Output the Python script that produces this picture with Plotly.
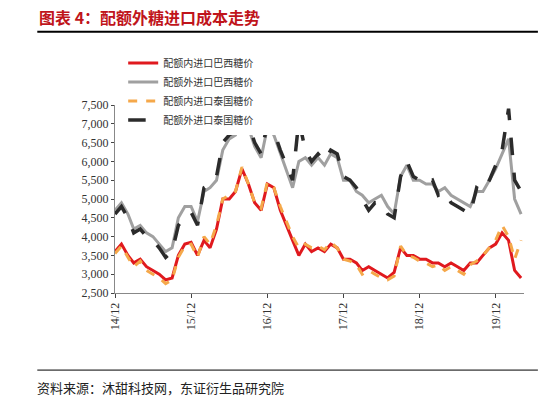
import plotly.graph_objects as go
import pandas as pd

months = pd.date_range("2014-12-01", "2020-04-01", freq="MS")

# 配额外进口泰国糖价 (black)
thai_out = [4600,
            4800, 4500, 4100, 4200, 4000, 3900, 3700, 3450, 3600, 4300, 4500, 4650,
            4300, 5300, 5400, 5600, 6500, 6700, 6800, 7400, 7000, 6500, 6200, 7000,
            6800, 6300, 5900, 5500, 7100, 6300, 6000, 6200, 6000, 6300, 6200, 5600,
            5500, 5300, 5000, 4700, 4900, 4900, 4600, 4500, 5600, 6000, 5600, 5500,
            5400, 5500, 5100, 5200, 4900, 4800, 4700, 4600, 5300, 5200, 5500, 5900,
            6300, 7400, 5500, 5200]
# 配额外进口巴西糖价 (gray)
brazil_out = [4700,
              4900, 4600, 4200, 4300, 4100, 4000, 3800, 3600, 3700, 4500, 4800, 4800,
              4400, 5200, 5300, 5500, 6300, 6600, 6700, 7300, 6900, 6400, 6100, 6900,
              6700, 6200, 5800, 5300, 6000, 6100, 5900, 6100, 5900, 6200, 6100, 5500,
              5500, 5200, 5100, 4900, 5000, 5100, 4800, 4600, 5600, 5900, 5500, 5500,
              5400, 5400, 5200, 5300, 5100, 5000, 4900, 4800, 5200, 5200, 5500, 5800,
              6200, 6600, 5000, 4600]
# 配额内进口巴西糖价 (red)
brazil_in = [3600,
             3800, 3500, 3300, 3400, 3200, 3100, 3000, 2850, 2900, 3500, 3800, 3850,
             3500, 3900, 3700, 4200, 5000, 5000, 5200, 5800, 5400, 4900, 4700, 5400,
             5300, 4700, 4300, 3900, 3500, 3800, 3600, 3700, 3600, 3800, 3700, 3400,
             3400, 3300, 3100, 3200, 3100, 3000, 2900, 3050, 3700, 3500, 3500, 3400,
             3400, 3300, 3300, 3200, 3300, 3200, 3100, 3300, 3300, 3500, 3700, 3800,
             4100, 3900, 3100, 2900]
# 配额内进口泰国糖价 (orange)
thai_in = [3550,
           3750, 3450, 3200, 3350, 3100, 3000, 2900, 2750, 2850, 3450, 3750, 3800,
           3450, 4000, 3800, 4300, 5000, 5100, 5200, 5850, 5400, 4900, 4750, 5450,
           5300, 4800, 4400, 4000, 3700, 3800, 3700, 3750, 3650, 3850, 3700, 3400,
           3350, 3250, 3000, 3100, 3000, 2900, 2850, 2950, 3750, 3500, 3450, 3350,
           3300, 3200, 3250, 3100, 3200, 3100, 3000, 3250, 3350, 3500, 3700, 3900,
           4300, 4000, 3400, 3900]

fig = go.Figure()
fig.add_trace(go.Scatter(x=months, y=brazil_in, name="配额内进口巴西糖价",
                         mode="lines", line=dict(color="#e0191e", width=3)))
fig.add_trace(go.Scatter(x=months, y=brazil_out, name="配额外进口巴西糖价",
                         mode="lines", line=dict(color="#a0a0a0", width=3)))
fig.add_trace(go.Scatter(x=months, y=thai_in, name="配额内进口泰国糖价",
                         mode="lines", line=dict(color="#f5a84a", width=3, dash="dash")))
fig.add_trace(go.Scatter(x=months, y=thai_out, name="配额外进口泰国糖价",
                         mode="lines", line=dict(color="#2b2b2b", width=3.5, dash="longdash")))

font_cjk = "Noto Sans CJK SC"
fig.update_layout(
    width=550, height=414,
    margin=dict(l=107, r=34, t=97, b=129),
    paper_bgcolor="white", plot_bgcolor="white",
    font=dict(family="Liberation Serif", size=12, color="#333"),
    showlegend=True,
    legend=dict(orientation="h", x=0.02, y=1.3, xanchor="left", yanchor="top",
                entrywidth=165, entrywidthmode="pixels",
                font=dict(family=font_cjk, size=10, color="#333")),
    xaxis=dict(range=["2014-12-01", "2020-04-15"], showgrid=False,
               showline=True, linecolor="#888", ticks="outside", ticklen=4,
               tickvals=pd.to_datetime(["2014-12-01", "2015-12-01", "2016-12-01",
                                        "2017-12-01", "2018-12-01", "2019-12-01"]),
               ticktext=["14/12", "15/12", "16/12", "17/12", "18/12", "19/12"],
               tickangle=-90, tickfont=dict(size=12)),
    yaxis=dict(range=[2500, 7500], dtick=500, tickformat=",", showgrid=False,
               showline=True, linecolor="#888", ticks="outside", ticklen=3,
               tickfont=dict(size=12), zeroline=False),
)
fig.add_annotation(text="<b>图表 4：配额外糖进口成本走势</b>", xref="paper", yref="paper",
                   x=-0.19, y=1.47, xanchor="left", yanchor="middle", showarrow=False,
                   font=dict(family=font_cjk, size=16, color="#c0141b"))
fig.add_shape(type="line", xref="paper", yref="paper", x0=-0.19, x1=1.034, y0=1.39, y1=1.39,
              line=dict(color="black", width=2))
fig.add_annotation(text="资料来源：沐甜科技网，东证衍生品研究院", xref="paper", yref="paper",
                   x=-0.195, y=-0.5, xanchor="left", yanchor="middle", showarrow=False,
                   font=dict(family=font_cjk, size=13, color="#222"))
fig.add_shape(type="line", xref="paper", yref="paper", x0=-0.19, x1=1.034, y0=-0.41, y1=-0.41,
              line=dict(color="black", width=1))

fig.write_html("out.html")
